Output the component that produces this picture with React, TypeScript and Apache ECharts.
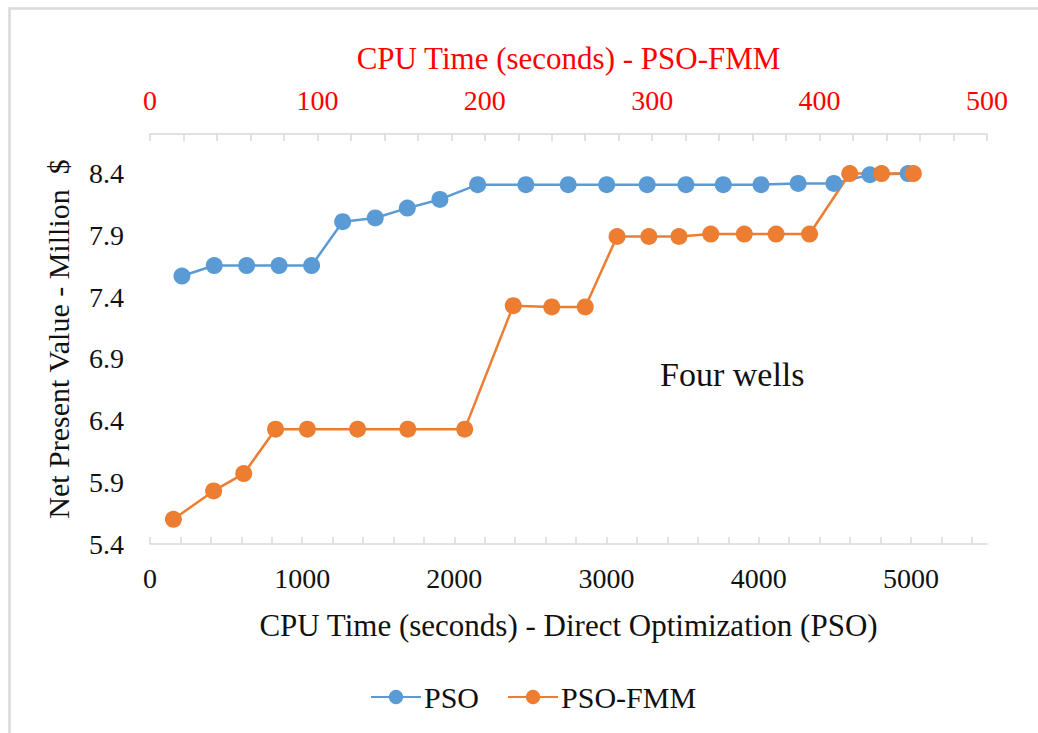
import React, { useEffect, useRef } from "react";
import * as echarts from "echarts";

// PSO (direct optimization) – CPU time (s) on the bottom axis
const psoTime = [210, 422, 635, 848, 1062, 1266, 1480, 1691, 1905, 2153, 2470, 2748, 3001, 3267, 3522, 3767, 4015, 4259, 4494, 4731, 4982];
const psoNPV = [7.57, 7.655, 7.655, 7.655, 7.655, 8.01, 8.04, 8.12, 8.19, 8.31, 8.31, 8.31, 8.31, 8.31, 8.31, 8.31, 8.31, 8.32, 8.32, 8.39, 8.4];

// PSO-FMM – CPU time (s) on the top axis
const fmmTime = [14, 38, 56, 75, 94, 124, 154, 188, 217, 240, 260, 279, 298, 316, 335, 355, 374, 394, 418, 437, 456];
const fmmNPV = [5.6, 5.83, 5.97, 6.33, 6.33, 6.33, 6.33, 6.33, 7.33, 7.32, 7.32, 7.89, 7.89, 7.89, 7.91, 7.91, 7.91, 7.91, 8.4, 8.4, 8.4];

const bottomLabels = [0, 1000, 2000, 3000, 4000, 5000];
const topLabels = [0, 100, 200, 300, 400, 500];
const bottomTicks: number[] = [];
for (let v = 0; v <= 5400; v += 200) bottomTicks.push(v);
const topTicks: number[] = [];
for (let v = 0; v <= 500; v += 20) topTicks.push(v);

const FONT = '"Liberation Serif", "Times New Roman", serif';
const AXIS_GRAY = "#d9d9d9";

export default function App() {
  const ref = useRef<HTMLDivElement>(null);
  useEffect(() => {
    if (!ref.current) return;
    const chart = echarts.init(ref.current, undefined, { renderer: "svg" });
    chart.setOption({
      animation: false,
      backgroundColor: "#fff",
      textStyle: { fontFamily: FONT },
      grid: { left: 150, top: 134, width: 837, height: 410 },
      graphic: [
        {
          type: "rect",
          shape: { x: 9.5, y: 8.5, width: 1100, height: 800 },
          style: { fill: "none", stroke: AXIS_GRAY, lineWidth: 2.5 },
          silent: true,
        },
        {
          type: "text",
          x: 660,
          y: 374,
          style: {
            text: "Four wells",
            font: `34px ${FONT}`,
            fill: "#111",
            verticalAlign: "middle",
          },
        },
      ],
      legend: {
        top: 677,
        left: 365,
        itemWidth: 50,
        itemHeight: 18,
        itemGap: 28,
        textStyle: { fontSize: 30, fontFamily: FONT, color: "#111", padding: [0, 0, 0, -2] },
        data: ["PSO", "PSO-FMM"],
      },
      xAxis: [
        {
          type: "value",
          position: "bottom",
          min: 0,
          max: 5500,
          name: "CPU Time (seconds) - Direct Optimization (PSO)",
          nameLocation: "middle",
          nameGap: 66,
          nameTextStyle: { fontSize: 31, fontFamily: FONT, color: "#111" },
          axisLine: { lineStyle: { color: AXIS_GRAY, width: 1.5 } },
          axisTick: { inside: true, length: 7, customValues: bottomTicks, lineStyle: { color: AXIS_GRAY, width: 1.5 } },
          axisLabel: {
            customValues: bottomLabels,
            fontSize: 28,
            fontFamily: FONT,
            color: "#111",
            margin: 20,
            formatter: (v: number) => String(v),
          },
          splitLine: { show: false },
        },
        {
          type: "value",
          position: "top",
          min: 0,
          max: 500,
          name: "CPU Time (seconds) - PSO-FMM",
          nameLocation: "middle",
          nameGap: 60,
          nameTextStyle: { fontSize: 31, fontFamily: FONT, color: "#ff0000" },
          axisLine: { lineStyle: { color: AXIS_GRAY, width: 1.5 } },
          axisTick: { inside: true, length: 7, customValues: topTicks, lineStyle: { color: AXIS_GRAY, width: 1.5 } },
          axisLabel: {
            customValues: topLabels,
            fontSize: 28,
            fontFamily: FONT,
            color: "#ff0000",
            margin: 20,
            formatter: (v: number) => String(v),
          },
          splitLine: { show: false },
        },
      ],
      yAxis: {
        type: "value",
        min: 5.4,
        max: 8.72,
        interval: 0.5,
        name: "Net Present Value - Million  $",
        nameLocation: "middle",
        nameGap: 77,
        nameTextStyle: { fontSize: 30, fontFamily: FONT, color: "#111" },
        axisLine: { show: false },
        axisTick: { show: false },
        splitLine: { show: false },
        axisLabel: {
          showMaxLabel: false,
          fontSize: 28,
          fontFamily: FONT,
          color: "#111",
          margin: 26,
          formatter: (v: number) => v.toFixed(1),
        },
      },
      series: [
        {
          name: "PSO",
          type: "line",
          xAxisIndex: 0,
          data: psoTime.map((t, i) => [t, psoNPV[i]]),
          symbol: "circle",
          symbolSize: 17,
          itemStyle: { color: "#5b9bd5" },
          lineStyle: { color: "#5b9bd5", width: 2.5 },
        },
        {
          name: "PSO-FMM",
          type: "line",
          xAxisIndex: 1,
          data: fmmTime.map((t, i) => [t, fmmNPV[i]]),
          symbol: "circle",
          symbolSize: 17,
          itemStyle: { color: "#ed7d31" },
          lineStyle: { color: "#ed7d31", width: 2.5 },
        },
      ],
    });
    return () => chart.dispose();
  }, []);
  return (
    <div
      ref={ref}
      style={{ position: "fixed", left: 0, top: 0, width: 1038, height: 733 }}
    />
  );
}
